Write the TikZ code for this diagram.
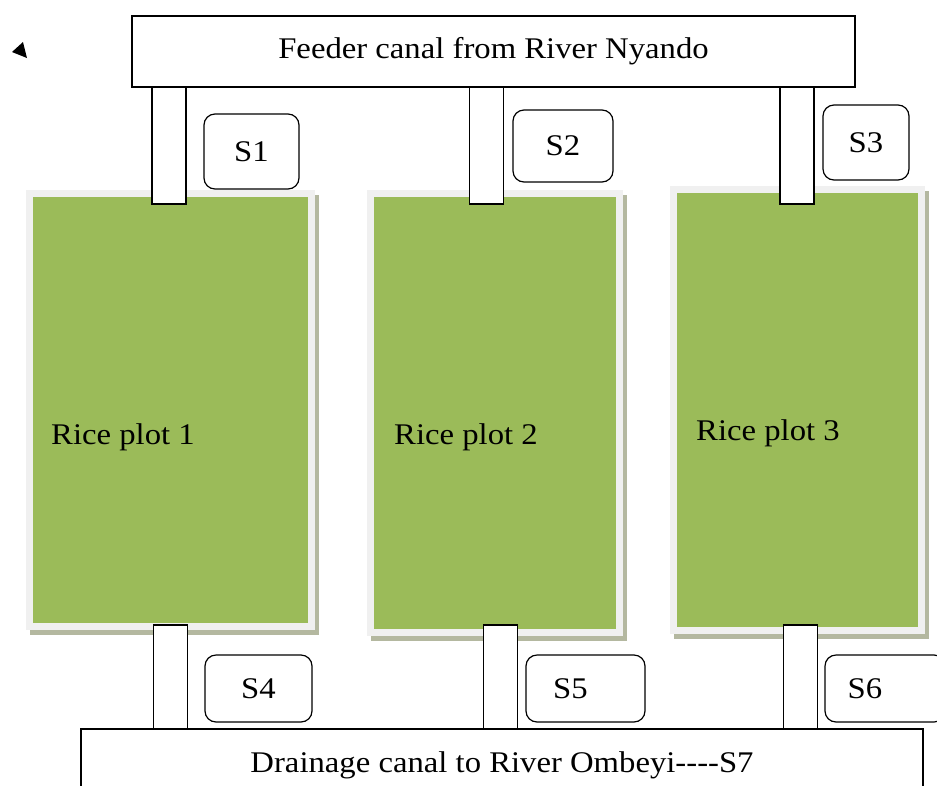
\documentclass[tikz,border=0pt]{standalone}
\usepackage{fontspec}
\setmainfont[FakeStretch=1.09]{Liberation Serif}
\definecolor{plotgreen}{RGB}{155,187,89}
\definecolor{plotrim}{RGB}{240,240,240}
\definecolor{plotshade}{RGB}{180,184,160}

\begin{document}
\begin{tikzpicture}
[every node/.style={inner sep=0pt},
 canal/.style={rectangle, draw=black, fill=white, line width=1.5pt, font=\fontsize{30}{36}\selectfont},
 gate/.style={rectangle, draw=black, fill=white, line width=1.5pt, minimum width=34pt},
 sluice/.style={rectangle, rounded corners=11pt, draw=black, fill=white, line width=1.2pt, font=\fontsize{30}{34}\selectfont},
 plotshadow/.style={rectangle, fill=plotshade},
 plot/.style={rectangle, fill=plotgreen, preaction={draw=plotrim, line width=14pt}},
 plotlabel/.style={anchor=west, font=\fontsize{30}{36}\selectfont}]
\useasboundingbox (0pt, 0pt) rectangle (937pt, -785pt);
\clip (0pt, 0pt) rectangle (937pt, -785pt);
% rice plots
\node (sh1) [plotshadow, minimum width=289pt, minimum height=440pt] at (174.5pt, -415.0pt) {};
\node (p1) [plot, minimum width=275pt, minimum height=426pt] at (170.5pt, -410.0pt) {};
\node (sh2) [plotshadow, minimum width=256pt, minimum height=446pt] at (499.0pt, -418.0pt) {};
\node (p2) [plot, minimum width=242pt, minimum height=432pt] at (495.0pt, -413.0pt) {};
\node (sh3) [plotshadow, minimum width=255pt, minimum height=448pt] at (801.5pt, -415.0pt) {};
\node (p3) [plot, minimum width=241pt, minimum height=434pt] at (797.5pt, -410.0pt) {};
\node (l1) [plotlabel] at (51pt, -437pt) {Rice plot 1};
\node (l2) [plotlabel] at (394pt, -437pt) {Rice plot 2};
\node (l3) [plotlabel] at (696pt, -433pt) {Rice plot 3};
% inlet and outlet channels
\node (g1) [gate, minimum height=117pt] at (169.0pt, -145.5pt) {};
\node (g2) [gate, minimum height=117pt] at (486.5pt, -145.5pt) {};
\node (g3) [gate, minimum height=117pt] at (797.0pt, -145.5pt) {};
\node (g4) [gate, minimum height=104pt] at (170.5pt, -677.0pt) {};
\node (g5) [gate, minimum height=104pt] at (500.5pt, -677.0pt) {};
\node (g6) [gate, minimum height=104pt] at (800.5pt, -677.0pt) {};
% canals
\node (feed) [canal, minimum width=723pt, minimum height=71pt] at (493.5pt, -51.5pt) {Feeder canal from River Nyando};
\node (drain) [canal, minimum width=842pt, minimum height=72pt] at (502.0pt, -765.0pt) {Drainage canal to River Ombeyi-{}-{}-{}-S7};
% sampling points
\node (s1) [sluice, minimum width=95pt, minimum height=75pt] at (251.5pt, -151.5pt) {S1};
\node (s2) [sluice, minimum width=100pt, minimum height=72pt] at (563.0pt, -146.0pt) {S2};
\node (s3) [sluice, minimum width=86pt, minimum height=75pt] at (866.0pt, -142.5pt) {S3};
\node (s4) [sluice, minimum width=107pt, minimum height=67pt] at (258.5pt, -688.5pt) {S4};
\node (s5) [sluice, minimum width=119pt, minimum height=67pt] at (585.5pt, -688.5pt) {\hspace*{-30pt}S5};
\node (s6) [sluice, minimum width=120pt, minimum height=67pt] at (885.0pt, -688.5pt) {\hspace*{-40pt}S6};
\fill [black] (12pt, -52pt) -- (23pt, -42pt) -- (27pt, -58pt) -- cycle;
\end{tikzpicture}
\end{document}
